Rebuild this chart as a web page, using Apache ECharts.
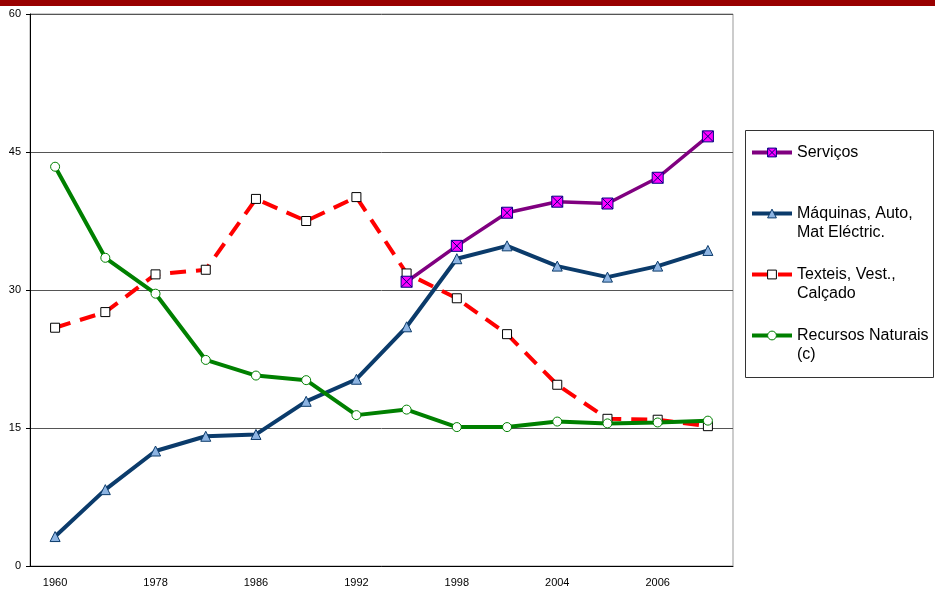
<!DOCTYPE html>
<html>
<head>
<meta charset="utf-8">
<script src="https://cdn.jsdelivr.net/npm/echarts@6/dist/echarts.min.js"></script>
<style>
  html, body { margin: 0; padding: 0; background: #fff; }
  #chart { width: 935px; height: 592px; }
</style>
</head>
<body>
<div id="chart"></div>
<script>
  // categorias do eixo x (so metade tem rotulo visivel)
  const years = ['1960', '', '1978', '', '1986', '', '1992', '', '1998', '', '2004', '', '2006', '']
  const yTicks = [0, 15, 30, 45, 60]

  const servicos = [null, null, null, null, null, null, null, 30.9, 34.8, 38.4, 39.6, 39.4, 42.2, 46.7]
  const maquinas = [3.2, 8.3, 12.5, 14.1, 14.3, 17.9, 20.3, 26.0, 33.4, 34.8, 32.6, 31.4, 32.6, 34.3]
  const texteis = [25.9, 27.6, 31.7, 32.2, 39.9, 37.5, 40.1, 31.8, 29.1, 25.2, 19.7, 16.0, 15.9, 15.2]
  const recursos = [43.4, 33.5, 29.6, 22.4, 20.7, 20.2, 16.4, 17.0, 15.1, 15.1, 15.7, 15.5, 15.6, 15.8]

  const font = 'Liberation Sans, Arial, sans-serif'
  const crossSymbol = 'path://M0,0H10V10H0Z M0,0L10,10 M10,0L0,10'

  const chart = echarts.init(document.getElementById('chart'))
  chart.setOption({
    animation: false,
    textStyle: { fontFamily: font },
    graphic: [
      { type: 'rect', left: 0, top: 0, shape: { width: 935, height: 6 }, style: { fill: '#990000' } },
      { type: 'rect', left: 745, top: 130, z: -1, shape: { width: 188, height: 247 }, style: { fill: '#fff', stroke: '#333', lineWidth: 1 } }
    ],
    grid: {
      left: 30, right: 202, top: 14, bottom: 26,
      show: true, borderColor: '#999', borderWidth: 1
    },
    legend: {
      orient: 'vertical',
      left: 750,
      top: 124,
      padding: 0,
      itemWidth: 40,
      itemHeight: 11,
      itemGap: 4,
      lineStyle: { width: 4 },
      // linha vazia em cima: o icone fica alinhado com a primeira linha do texto
      formatter: function (name) {
        return name.indexOf('\n') >= 0 ? '\n' + name : '\n' + name + '\n'
      },
      textStyle: { fontSize: 16, color: '#000', fontFamily: font, lineHeight: 19 },
      data: [
        { name: 'Serviços', itemStyle: { color: '#ff00ff', borderColor: '#000080', borderWidth: 1 } },
        { name: 'Máquinas, Auto,\nMat Eléctric.', itemStyle: { color: '#8db4e2', borderColor: '#0b3b6b', borderWidth: 1 } },
        { name: 'Texteis, Vest.,\nCalçado', itemStyle: { color: '#fff', borderColor: '#000', borderWidth: 1 } },
        { name: 'Recursos Naturais\n(c)', itemStyle: { color: '#fff', borderColor: '#008000', borderWidth: 1 } }
      ]
    },
    xAxis: {
      type: 'category',
      data: years,
      boundaryGap: true,
      axisLine: { lineStyle: { color: '#000', width: 1 } },
      axisTick: { interval: 0, length: 4, lineStyle: { color: '#000' } },
      axisLabel: { interval: 0, margin: 11, fontSize: 11, color: '#000' },
      splitLine: { show: false }
    },
    yAxis: {
      type: 'value',
      min: yTicks[0],
      max: yTicks[yTicks.length - 1],
      interval: 15,
      axisLine: { show: true, lineStyle: { color: '#000', width: 1 } },
      axisTick: { show: true, length: 4, lineStyle: { color: '#000' } },
      axisLabel: { margin: 9, fontSize: 11, color: '#000' },
      splitLine: { lineStyle: { color: '#555', width: 1 } }
    },
    series: [{
      name: 'Máquinas, Auto,\nMat Eléctric.',
      type: 'line',
      data: maquinas,
      symbol: 'triangle',
      symbolSize: 10,
      lineStyle: { color: '#0b3b6b', width: 4 },
      itemStyle: { color: '#8db4e2', borderColor: '#0b3b6b', borderWidth: 1 },
      z: 2
    }, {
      name: 'Texteis, Vest.,\nCalçado',
      type: 'line',
      data: texteis,
      symbol: 'rect',
      symbolSize: 9,
      lineStyle: { color: '#ff0000', width: 4, type: [16, 10] },
      itemStyle: { color: '#fff', borderColor: '#000', borderWidth: 1 },
      z: 3
    }, {
      name: 'Recursos Naturais\n(c)',
      type: 'line',
      data: recursos,
      symbol: 'circle',
      symbolSize: 9,
      lineStyle: { color: '#008000', width: 4 },
      itemStyle: { color: '#fff', borderColor: '#008000', borderWidth: 1 },
      z: 4
    }, {
      name: 'Serviços',
      type: 'line',
      data: servicos,
      symbol: crossSymbol,
      symbolSize: 11,
      lineStyle: { color: '#800080', width: 3.5 },
      itemStyle: { color: '#ff00ff', borderColor: '#000080', borderWidth: 1 },
      z: 5
    }]
  })
</script>
</body>
</html>
